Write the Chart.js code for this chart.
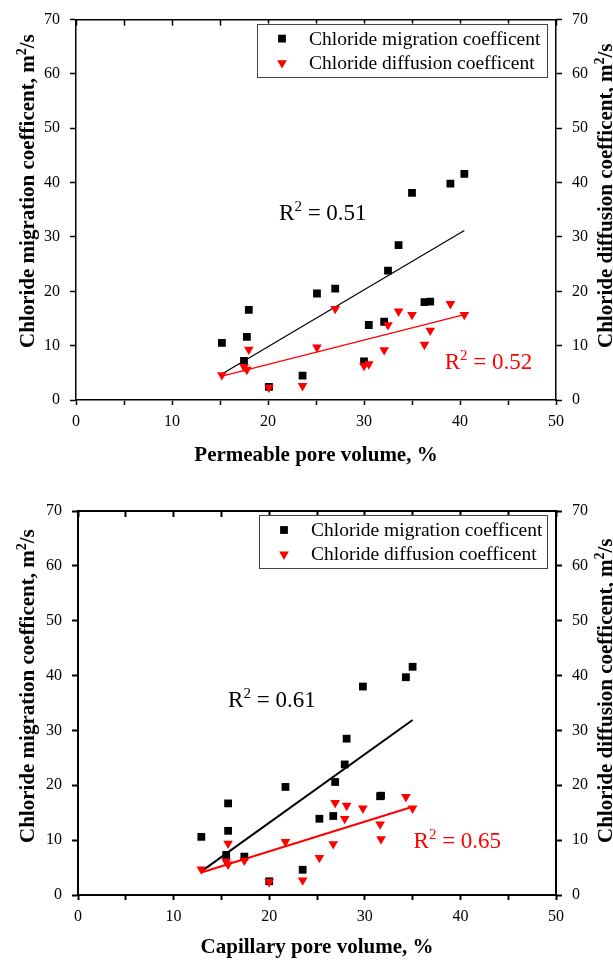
<!DOCTYPE html>
<html>
<head>
<meta charset="utf-8">
<title>Chloride coefficients vs pore volume</title>
<script src="https://cdn.jsdelivr.net/npm/chart.js"></script>
<style>
  body { margin: 0; background: #fff; }
  canvas { display: block; }
</style>
</head>
<body>
<canvas id="permChart" width="613" height="480"></canvas>
<canvas id="capChart" width="613" height="481"></canvas>
<script>
// --- top panel: permeable pore volume (%)
var permVolume = [15.2, 17.5, 17.8, 18.0, 20.1, 23.6, 25.1, 27.0, 30.0, 30.5, 32.1, 32.5, 33.6, 35.0, 36.3, 36.9, 39.0, 40.45];
var permMigration = [10.5, 7.2, 11.6, 16.6, 2.4, 4.5, 19.6, 20.5, 7.1, 13.8, 14.4, 23.8, 28.5, 38.1, 18.0, 18.1, 39.8, 41.6];
var permDiffusion = [4.6, 6.1, 5.6, 9.3, 2.3, 2.6, 9.7, 16.8, 6.3, 6.6, 9.2, 13.8, 16.3, 15.7, 10.2, 12.8, 17.7, 15.7];
var permFitX = [15.2, 40.45];
var permMigFit = [4.8, 31.2];
var permDiffFit = [4.4, 15.7];
var permR2 = ['0.51', '0.52'];

// --- bottom panel: capillary pore volume (%)
var capVolume = [12.9, 15.5, 15.7, 15.7, 17.4, 20.0, 21.7, 23.5, 25.25, 26.7, 26.9, 27.9, 28.1, 29.8, 31.6, 31.7, 34.3, 35.0];
var capMigration = [10.6, 7.3, 11.7, 16.7, 7.0, 2.5, 19.7, 4.6, 13.9, 14.4, 20.6, 23.8, 28.5, 38.0, 18.0, 18.1, 39.7, 41.6];
var capDiffusion = [4.7, 6.1, 5.6, 9.4, 6.3, 2.4, 9.7, 2.7, 6.8, 9.3, 16.8, 13.9, 16.3, 15.8, 12.9, 10.2, 17.9, 15.8];
var capFitX = [12.9, 35.0];
var capMigFit = [4.3, 31.9];
var capDiffFit = [4.1, 16.1];
var capR2 = ['0.61', '0.65'];

var seriesNames = ['Chloride migration coefficent', 'Chloride diffusion coefficent'];
var SERIF = "'Liberation Serif', 'Times New Roman', serif";

Chart.defaults.font.family = SERIF;
Chart.defaults.color = '#000';

function pts(xs, ys) {
  return xs.map(function (x, i) { return { x: x, y: ys[i] }; });
}

// text with a raised "2"
function drawSup(ctx, base, sup, rest, x, y, size, bold) {
  var w = bold ? 'bold ' : '';
  ctx.font = w + size + 'px ' + SERIF;
  ctx.fillText(base, x, y);
  x += ctx.measureText(base).width;
  ctx.font = w + Math.round(size * 0.65) + 'px ' + SERIF;
  ctx.fillText(sup, x, y - size * 0.4);
  x += ctx.measureText(sup).width;
  ctx.font = w + size + 'px ' + SERIF;
  ctx.fillText(rest, x, y);
}

var decor = {
  id: 'decor',
  afterDatasetsDraw: function (chart, args, opts) {
    var ctx = chart.ctx, area = chart.chartArea;
    var xs = chart.scales.x, ys = chart.scales.y;
    ctx.save();

    // legend box
    var bx = area.left + 181, by = area.top + 4, bw = area.right - 9 - bx, bh = 53;
    ctx.fillStyle = '#fff';
    ctx.fillRect(bx, by, bw, bh);
    ctx.strokeStyle = '#444';
    ctx.lineWidth = 1;
    ctx.strokeRect(Math.round(bx) + 0.5, Math.round(by) + 0.5, bw, bh);
    ctx.textAlign = 'left';
    ctx.textBaseline = 'alphabetic';
    [0, 1].forEach(function (i) {
      var ds = chart.data.datasets[i];
      var yb = area.top + 25 + i * 24.4;
      ctx.fillStyle = ds.backgroundColor;
      ctx.strokeStyle = ds.backgroundColor;
      Chart.helpers.drawPoint(ctx, {
        pointStyle: ds.pointStyle, radius: ds.pointRadius,
        rotation: ds.rotation || 0, borderWidth: 0
      }, bx + 25, yb - 6);
      ctx.fillStyle = '#000';
      ctx.font = '19.5px ' + SERIF;
      ctx.fillText(ds.label, bx + 52, yb);
    });

    // R² notes
    opts.notes.forEach(function (n) {
      ctx.fillStyle = n.color;
      drawSup(ctx, 'R', '2', ' = ' + n.text, xs.getPixelForValue(n.at[0]), ys.getPixelForValue(n.at[1]), 23, false);
    });

    // vertical axis titles, reading bottom to top
    ctx.fillStyle = '#000';
    opts.titles.forEach(function (t) {
      ctx.save();
      ctx.translate(t.x, area.bottom - 52);
      ctx.rotate(-Math.PI / 2);
      drawSup(ctx, t.text, '2', '/s', 0, 0, 21, true);
      ctx.restore();
    });
    ctx.restore();
  }
};

function makeChart(id, cfg) {
  var axisW = cfg.axisWidth;
  var tickFont = { size: 16, family: SERIF };
  var yAxis = function (pos, width) {
    return {
      type: 'linear', position: pos, min: 0, max: 70,
      ticks: { stepSize: 10, font: tickFont, padding: 10, color: '#000' },
      grid: { drawOnChartArea: false, drawTicks: true, tickLength: 6, tickColor: '#000', tickWidth: axisW },
      border: { display: true, color: '#000', width: axisW },
      afterFit: function (s) { s.width = width; }
    };
  };
  return new Chart(document.getElementById(id), {
    type: 'scatter',
    data: {
      datasets: [
        {
          label: seriesNames[0], data: pts(cfg.x, cfg.mig), yAxisID: 'y',
          pointStyle: 'rect', pointRadius: 5.5, pointHoverRadius: 5.5, pointBorderWidth: 0,
          backgroundColor: '#000', borderColor: '#000', order: 1
        },
        {
          label: seriesNames[1], data: pts(cfg.x, cfg.diff), yAxisID: 'y2',
          pointStyle: 'triangle', rotation: 180, pointRadius: 5.6, pointHoverRadius: 5.6, pointBorderWidth: 0,
          backgroundColor: '#ff0000', borderColor: '#ff0000', order: 0
        },
        {
          label: 'migration fit', data: pts(cfg.fitX, cfg.migFit), yAxisID: 'y',
          showLine: true, pointRadius: 0, borderColor: '#000', borderWidth: cfg.fitWidth, order: 2
        },
        {
          label: 'diffusion fit', data: pts(cfg.fitX, cfg.diffFit), yAxisID: 'y2',
          showLine: true, pointRadius: 0, borderColor: '#ff0000', borderWidth: cfg.fitWidth, order: 3
        }
      ]
    },
    options: {
      responsive: false,
      animation: false,
      events: [],
      layout: { padding: { top: cfg.top, left: 0, right: 0, bottom: 0 } },
      plugins: {
        legend: { display: false },
        tooltip: { enabled: false },
        decor: {
          notes: [
            { text: cfg.r2[0], color: '#000', at: cfg.r2At[0] },
            { text: cfg.r2[1], color: '#ff0000', at: cfg.r2At[1] }
          ],
          titles: [
            { text: 'Chloride migration coefficent, m', x: 34 },
            { text: 'Chloride diffusion coefficent, m', x: 612 }
          ]
        }
      },
      scales: {
        x: {
          type: 'linear', position: 'bottom', min: 0, max: 50,
          ticks: {
            stepSize: 5, autoSkip: false, maxRotation: 0, font: tickFont, padding: 7, color: '#000',
            callback: function (v) { return v % 10 === 0 ? v : ''; }
          },
          grid: { drawOnChartArea: false, drawTicks: true, tickLength: 5, tickColor: '#000', tickWidth: axisW },
          border: { display: true, color: '#000', width: axisW },
          title: {
            display: true, text: cfg.xTitle, color: '#000',
            font: { size: 21, weight: 'bold', family: SERIF },
            padding: { top: 0, bottom: cfg.titlePad }
          },
          afterFit: function (s) { s.height = cfg.xHeight; }
        },
        x2: {
          type: 'linear', position: 'top', min: 0, max: 50,
          ticks: { stepSize: 5, display: false },
          grid: { drawOnChartArea: false, drawTicks: true, tickLength: -6, tickColor: '#000', tickWidth: axisW },
          border: { display: true, color: '#000', width: axisW },
          afterFit: function (s) { s.height = 0; }
        },
        y: yAxis('left', cfg.leftW),
        y2: yAxis('right', 57)
      }
    },
    plugins: [decor]
  });
}

makeChart('permChart', {
  x: permVolume, mig: permMigration, diff: permDiffusion,
  fitX: permFitX, migFit: permMigFit, diffFit: permDiffFit,
  r2: permR2, r2At: [[21.15, 33.1], [38.4, 5.75]],
  xTitle: 'Permeable pore volume, %',
  top: 14, leftW: 76, xHeight: 80, titlePad: 12, axisWidth: 1.5, fitWidth: 1.2
});

makeChart('capChart', {
  x: capVolume, mig: capMigration, diff: capDiffusion,
  fitX: capFitX, migFit: capMigFit, diffFit: capDiffFit,
  r2: capR2, r2At: [[15.7, 34.3], [35.1, 8.5]],
  xTitle: 'Capillary pore volume, %',
  top: 31, leftW: 78, xHeight: 66, titlePad: 1, axisWidth: 2, fitWidth: 2
});
</script>
</body>
</html>
